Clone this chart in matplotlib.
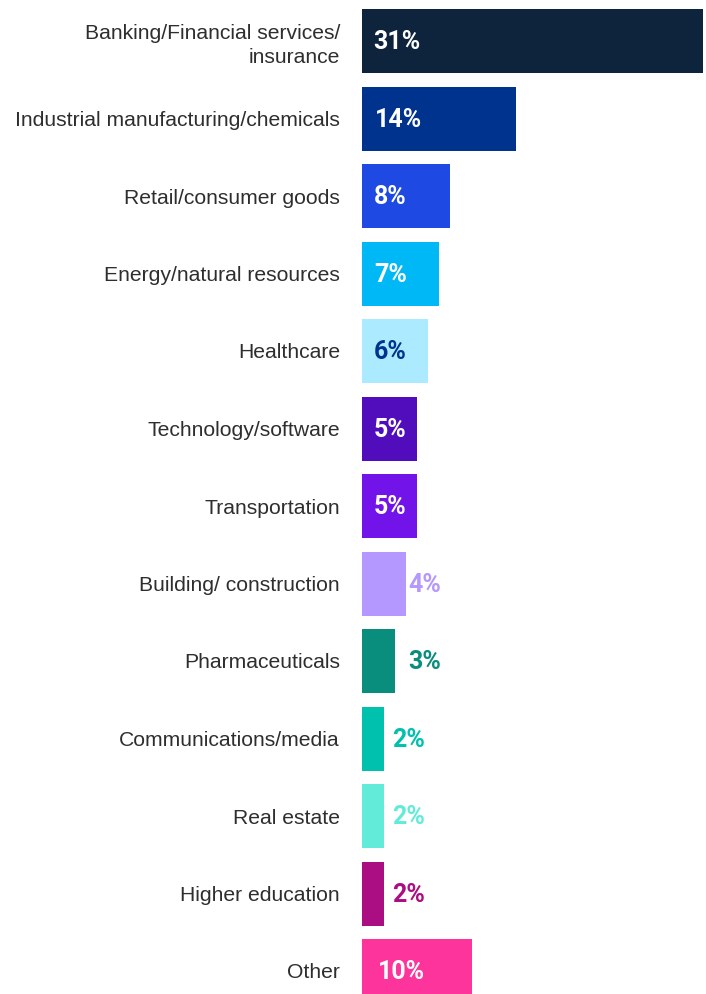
import matplotlib
matplotlib.use("Agg")
import matplotlib.pyplot as plt

# industry share of respondents
industries = [
    "Banking/Financial services/\ninsurance",
    "Industrial manufacturing/chemicals",
    "Retail/consumer goods",
    "Energy/natural resources",
    "Healthcare",
    "Technology/software",
    "Transportation",
    "Building/ construction",
    "Pharmaceuticals",
    "Communications/media",
    "Real estate",
    "Higher education",
    "Other",
]
shares = [31, 14, 8, 7, 6, 5, 5, 4, 3, 2, 2, 2, 10]

bar_colors = ["#0E233C", "#00338D", "#1E49E2", "#00B8F5", "#ACEAFF",
              "#510DBC", "#7213EA", "#B497FF", "#098E7E", "#00C0AE",
              "#63EBDA", "#AB0D82", "#FD349C"]
# label placement: inside the bar or just past its end
inside = [True, True, True, True, True, True, True,
          False, False, False, False, False, True]
label_colors = ["white", "white", "white", "white", "#00338D",
                "white", "white", "#B497FF", "#098E7E", "#00C0AE",
                "#63EBDA", "#AB0D82", "white"]
label_dx = [11, 13, 12, 12, 12, 12, 12, 2, 13, 8, 8, 8, 16]  # pixels

W, H = 706, 994
fig = plt.figure(figsize=(W / 100, H / 100), dpi=100)
ax = fig.add_axes([362 / W, 0, 1 - 362 / W, 1])

px_per_unit = 11.0
pitch = 77.5
ypos = list(range(len(shares)))
ax.barh(ypos, shares, height=64 / pitch, color=bar_colors, left=0)

ax.set_xlim(0, (W - 362) / px_per_unit)
ax.set_ylim((H - 41) / pitch, -41 / pitch)

for y, v, ins, c, dx in zip(ypos, shares, inside, label_colors, label_dx):
    anchor = 0 if ins else v
    ax.annotate(f"{v}%", xy=(anchor, y), xytext=(dx * 0.72, -6),
                textcoords="offset points", ha="left", va="baseline",
                color=c, fontsize=18, fontweight="bold", family="Roboto")

ax.set_yticks(ypos)
ax.set_yticklabels(industries, fontsize=15.2, color="#2e2e2e",
                   family="Liberation Sans", linespacing=1.35)
ax.tick_params(axis="y", length=0, pad=22 * 0.72)
for lab in ax.get_yticklabels():
    lab.set_horizontalalignment("right")
ax.set_xticks([])
for s in ax.spines.values():
    s.set_visible(False)

fig.savefig("out.png", dpi=100)
